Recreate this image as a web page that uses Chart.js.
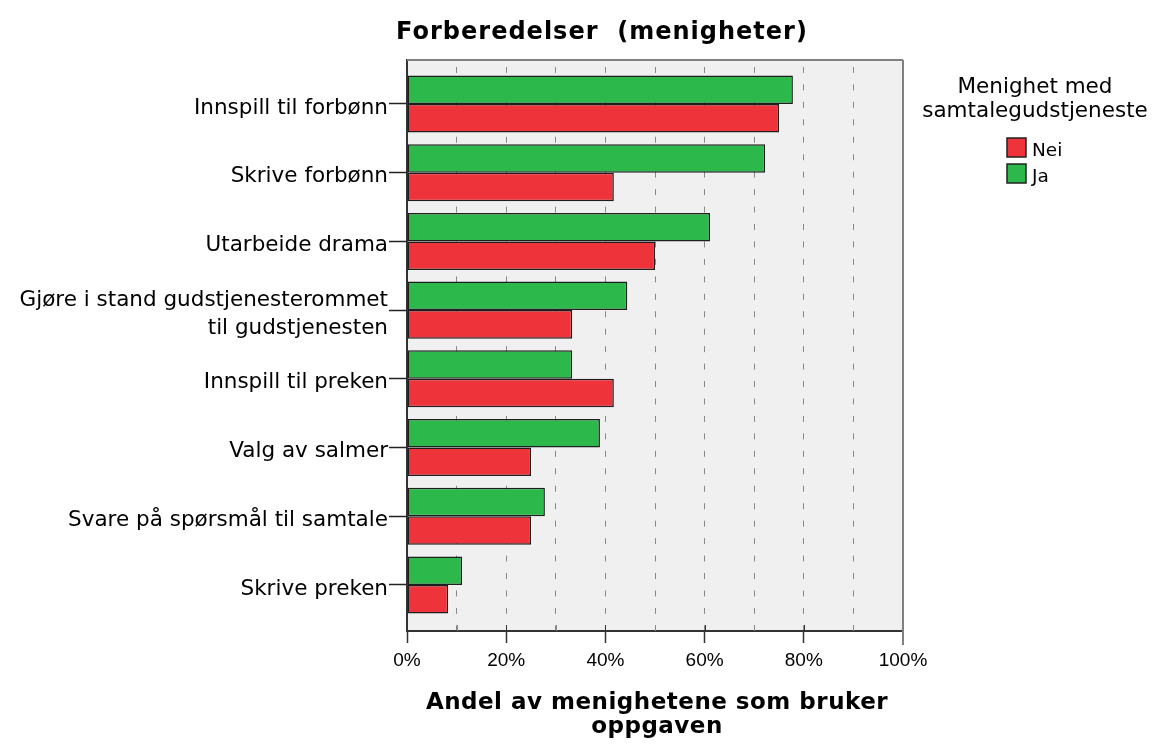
<!DOCTYPE html>
<html><head><meta charset="utf-8">
<script src="https://cdn.jsdelivr.net/npm/chart.js@4/dist/chart.umd.min.js"></script>
<style>html,body{margin:0;padding:0;background:#fff;}canvas{display:block;}</style>
</head><body>
<canvas id="c" width="1152" height="745"></canvas>
<script>
// ---- data ----
const categories = [
  "Innspill til forbønn",
  "Skrive forbønn",
  "Utarbeide drama",
  ["Gjøre i stand gudstjenesterommet", "til gudstjenesten"],
  "Innspill til preken",
  "Valg av salmer",
  "Svare på spørsmål til samtale",
  "Skrive preken"
];
const neiValues = [75.0, 41.7, 50.0, 33.3, 41.7, 25.0, 25.0, 8.3];
const jaValues  = [77.8, 72.2, 61.1, 44.4, 33.3, 38.9, 27.8, 11.1];
const seriesNames = ["Nei", "Ja"];
const xTickLabels = ["0%", "20%", "40%", "60%", "80%", "100%"];
const chartTitle = "Forberedelser  (menigheter)";
const xAxisTitle = ["Andel av menighetene som bruker", "oppgaven"];
const legendTitle = ["Menighet med", "samtalegudstjeneste"];

const RED = '#ef333a', GREEN = '#2cb84a';
const FONT = "'DejaVu Sans', sans-serif";

const toPoints = vals => vals.map((v, i) => ({x: v, y: i}));

const decor = {
  id: 'decor',
  beforeDraw(chart) {
    const {ctx, chartArea: a} = chart;
    ctx.save();
    ctx.fillStyle = '#f0f0f0';
    ctx.fillRect(a.left, a.top, a.right - a.left, a.bottom - a.top);
    ctx.restore();
  },
  afterDraw(chart) {
    const {ctx, chartArea: a} = chart;
    const xs = chart.scales.x;
    ctx.save();
    // frame top & right
    ctx.strokeStyle = '#808080';
    ctx.lineWidth = 2;
    ctx.beginPath();
    ctx.moveTo(a.left, a.top); ctx.lineTo(a.right, a.top);
    ctx.moveTo(a.right, a.top); ctx.lineTo(a.right, a.bottom + 14);
    ctx.stroke();
    // small inner ticks above x axis
    ctx.lineWidth = 1;
    xs.ticks.forEach(t => {
      if (t.value <= 0 || t.value >= 100) return;
      const px = Math.round(xs.getPixelForValue(t.value)) + 0.5;
      ctx.strokeStyle = t.value % 20 === 0 ? '#333' : '#888';
      ctx.beginPath(); ctx.moveTo(px, a.bottom - 6); ctx.lineTo(px, a.bottom); ctx.stroke();
    });
    // title
    ctx.fillStyle = '#000';
    ctx.textAlign = 'center';
    ctx.textBaseline = 'alphabetic';
    ctx.font = "bold 24px " + FONT;
    ctx.letterSpacing = '1px';
    ctx.fillText(chartTitle, 602, 39);
    // x axis title
    ctx.letterSpacing = '0.5px';
    ctx.font = "bold 23px " + FONT;
    const cx = (a.left + a.right) / 2;
    xAxisTitle.forEach((s, i) => ctx.fillText(s, cx + 2, 709 + i * 24));
    ctx.letterSpacing = '0px';
    // legend
    ctx.font = "21.5px " + FONT;
    legendTitle.forEach((s, i) => ctx.fillText(s, 1035, 93 + i * 24));
    const order = [1, 0]; // Nei then Ja
    order.forEach((di, k) => {
      const ds = chart.data.datasets[di];
      const y = 138 + k * 26;
      ctx.fillStyle = ds.backgroundColor;
      ctx.fillRect(1007, y, 19, 19);
      ctx.strokeStyle = '#222'; ctx.lineWidth = 1.5;
      ctx.strokeRect(1007, y, 19, 19);
      ctx.fillStyle = '#000';
      ctx.textAlign = 'left';
      ctx.textBaseline = 'alphabetic';
      ctx.font = "18.5px " + FONT;
      ctx.fillText(ds.label, 1032, y + 18);
    });
    ctx.restore();
  }
};

new Chart(document.getElementById('c'), {
  type: 'bar',
  data: {
    datasets: [
      {label: seriesNames[1], data: toPoints(jaValues), backgroundColor: GREEN, borderColor: '#1e1e1e', borderWidth: 1.5, borderSkipped: false},
      {label: seriesNames[0], data: toPoints(neiValues), backgroundColor: RED, borderColor: '#1e1e1e', borderWidth: 1.5, borderSkipped: false}
    ]
  },
  options: {
    indexAxis: 'y',
    responsive: false,
    animation: false,
    devicePixelRatio: 1,
    categoryPercentage: 0.83,
    barPercentage: 1.0,
    layout: {padding: {left: 0, top: 60, right: 249, bottom: 0}},
    plugins: {legend: {display: false}, title: {display: false}, tooltip: {enabled: false}},
    scales: {
      y: {
        type: 'linear',
        reverse: true,
        offset: false,
        min: -0.64,
        max: 7.67,
        afterFit: s => { s.width = 407; },
        ticks: {
          stepSize: 1,
          includeBounds: false,
          autoSkip: false,
          color: '#000',
          font: {family: FONT, size: 21.5, lineHeight: 1.3},
          padding: 1,
          labelOffset: 4,
          callback: v => (Number.isInteger(v) && v >= 0 && v < categories.length) ? categories[v] : ''
        },
        grid: {offset: false, drawOnChartArea: false, drawTicks: true, tickLength: 18, tickColor: '#222', tickWidth: 1.5},
        border: {display: true, color: '#333', width: 2}
      },
      x: {
        type: 'linear',
        min: 0,
        max: 100,
        afterFit: s => { s.height = 114; },
        ticks: {
          stepSize: 10,
          autoSkip: false,
          maxRotation: 0,
          color: '#000',
          font: {family: "'Liberation Sans', Arial, sans-serif", size: 19},
          padding: 6,
          callback: v => (v % 20 === 0) ? xTickLabels[v / 20] : ''
        },
        grid: {
          drawOnChartArea: true,
          color: c => (c.tick && (c.tick.value === 0 || c.tick.value === 100)) ? 'rgba(0,0,0,0)' : '#888',
          lineWidth: 1,
          tickLength: 12,
          tickColor: c => (c.tick && c.tick.value % 20 === 0 && c.tick.value !== 100) ? '#333' : 'rgba(0,0,0,0)',
          tickWidth: 1.5
        },
        border: {display: true, color: '#333', width: 2, dash: [6, 11.45], dashOffset: 10.5}
      }
    }
  },
  plugins: [decor]
});
</script>
</body></html>
